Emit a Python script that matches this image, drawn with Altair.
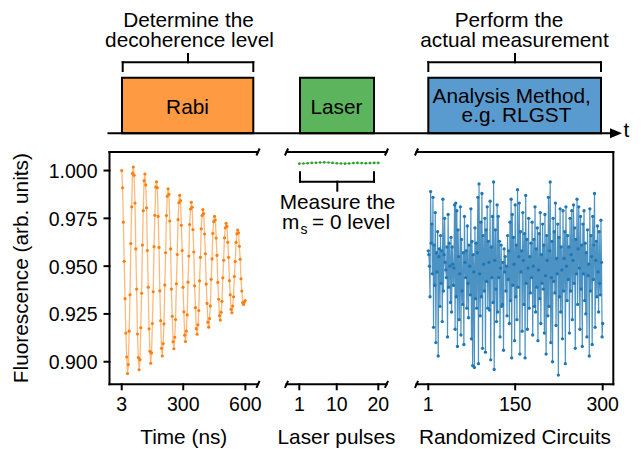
import altair as alt
import pandas as pd

# ---------------- data ----------------
rabi_time_ns = list(range(3, 600, 4))
rabi_fluorescence = [
    1.0000, 0.9910, 0.9730, 0.9525, 0.9330, 0.9150, 0.9025, 0.8938, 0.8985, 0.9160,
    0.9350, 0.9618, 0.9810, 0.9985, 1.0018, 0.9975, 0.9830, 0.9590, 0.9380, 0.9145,
    0.9022, 0.8958, 0.9011, 0.9178, 0.9358, 0.9610, 0.9790, 0.9946, 0.9982, 0.9925,
    0.9805, 0.9582, 0.9390, 0.9172, 0.9055, 0.8992, 0.9046, 0.9200, 0.9366, 0.9602,
    0.9766, 0.9914, 0.9941, 0.9910, 0.9760, 0.9598, 0.9371, 0.9215, 0.9070, 0.9030,
    0.9095, 0.9198, 0.9401, 0.9570, 0.9765, 0.9866, 0.9905, 0.9876, 0.9736, 0.9590,
    0.9380, 0.9238, 0.9105, 0.9068, 0.9128, 0.9221, 0.9408, 0.9561, 0.9743, 0.9832,
    0.9870, 0.9843, 0.9714, 0.9582, 0.9389, 0.9261, 0.9139, 0.9106, 0.9160, 0.9245,
    0.9416, 0.9553, 0.9718, 0.9799, 0.9834, 0.9808, 0.9691, 0.9574, 0.9397, 0.9283,
    0.9173, 0.9144, 0.9193, 0.9268, 0.9423, 0.9546, 0.9695, 0.9765, 0.9796, 0.9775,
    0.9668, 0.9565, 0.9406, 0.9305, 0.9207, 0.9181, 0.9226, 0.9292, 0.9431, 0.9538,
    0.9671, 0.9733, 0.9760, 0.9741, 0.9647, 0.9556, 0.9415, 0.9327, 0.9241, 0.9218,
    0.9259, 0.9316, 0.9439, 0.9531, 0.9648, 0.9701, 0.9724, 0.9708, 0.9625, 0.9546,
    0.9424, 0.9350, 0.9274, 0.9256, 0.9291, 0.9340, 0.9446, 0.9524, 0.9624, 0.9669,
    0.9689, 0.9674, 0.9604, 0.9536, 0.9434, 0.9370, 0.9310, 0.9300, 0.9312, 0.9320,
]

laser_pulse = list(range(1, 21))
laser_fluorescence = [
    1.0036, 1.0037, 1.0038, 1.0040, 1.0041, 1.0042, 1.0043, 1.0042, 1.0040, 1.0038,
    1.0037, 1.0036, 1.0037, 1.0039, 1.0040, 1.0039, 1.0038, 1.0039, 1.0040, 1.0040,
]

circuit_index = list(range(1, 301))
circuit_fluorescence = [
    0.958, 0.956, 0.950, 0.934, 0.989, 0.962, 0.972, 0.946, 0.986, 0.918, 0.961, 0.940, 0.978, 0.910, 0.957, 0.947, 0.968, 0.903, 0.955, 0.959,
    0.929, 0.966, 0.941, 0.958, 0.921, 0.985, 0.937, 0.956, 0.975, 0.952, 0.948, 0.944, 0.960, 0.913, 0.977, 0.939, 0.962, 0.950, 0.931, 0.965,
    0.926, 0.960, 0.951, 0.940, 0.949, 0.982, 0.917, 0.983, 0.934, 0.979, 0.908, 0.969, 0.955, 0.922, 0.946, 0.981, 0.914, 0.964, 0.937, 0.930,
    0.957, 0.909, 0.976, 0.952, 0.944, 0.958, 0.928, 0.971, 0.941, 0.923, 0.961, 0.950, 0.935, 0.980, 0.912, 0.963, 0.898, 0.956, 0.947, 0.897,
    0.970, 0.933, 0.962, 0.928, 0.957, 0.986, 0.899, 0.993, 0.946, 0.924, 0.973, 0.934, 0.988, 0.907, 0.966, 0.951, 0.937, 0.975, 0.905, 0.969,
    0.942, 0.981, 0.928, 0.963, 0.952, 0.927, 0.984, 0.901, 0.960, 0.944, 0.976, 0.931, 0.994, 0.896, 0.953, 0.969, 0.938, 0.921, 0.982, 0.926,
    0.976, 0.944, 0.963, 0.913, 0.949, 0.961, 0.929, 0.930, 0.952, 0.906, 0.959, 0.947, 0.955, 0.937, 0.950, 0.924, 0.966, 0.943, 0.958, 0.920,
    0.973, 0.932, 0.985, 0.902, 0.977, 0.940, 0.965, 0.951, 0.911, 0.982, 0.934, 0.961, 0.922, 0.990, 0.939, 0.955, 0.983, 0.904, 0.968, 0.947,
    0.958, 0.916, 0.978, 0.953, 0.930, 0.967, 0.902, 0.987, 0.941, 0.964, 0.917, 0.949, 0.975, 0.928, 0.955, 0.936, 0.962, 0.944, 0.973, 0.914,
    0.950, 0.964, 0.929, 0.981, 0.926, 0.959, 0.939, 0.970, 0.911, 0.948, 0.967, 0.933, 0.978, 0.920, 0.956, 0.941, 0.972, 0.938, 0.961, 0.915,
    0.977, 0.945, 0.904, 0.966, 0.953, 0.924, 0.986, 0.929, 0.958, 0.994, 0.910, 0.944, 0.963, 0.900, 0.975, 0.942, 0.968, 0.936, 0.983, 0.919,
    0.954, 0.946, 0.972, 0.893, 0.965, 0.934, 0.980, 0.926, 0.960, 0.948, 0.912, 0.979, 0.937, 0.954, 0.968, 0.899, 0.981, 0.950, 0.932, 0.966,
    0.943, 0.960, 0.915, 0.975, 0.937, 0.956, 0.979, 0.922, 0.953, 0.982, 0.941, 0.970, 0.907, 0.964, 0.946, 0.985, 0.930, 0.959, 0.981, 0.949,
    0.917, 0.976, 0.938, 0.961, 0.908, 0.972, 0.946, 0.979, 0.932, 0.962, 0.925, 0.957, 0.913, 0.969, 0.945, 0.951, 0.903, 0.980, 0.937, 0.966,
    0.955, 0.909, 0.976, 0.943, 0.961, 0.988, 0.918, 0.953, 0.963, 0.934, 0.971, 0.947, 0.926, 0.968, 0.941, 0.935, 0.974, 0.952, 0.913, 0.920,
]

fluor_ticks = [0.900, 0.925, 0.950, 0.975, 1.000]
time_ticks = [3, 300, 600]
pulse_ticks = [1, 10, 20]
circuit_ticks = [1, 150, 300]

# ---------------- layout / style ----------------
W, H = 641, 449
FONT = "Liberation Sans"
TXT = 20.8
LBL = 19.5
TICK = 5
Y_DOM = [0.8882, 1.0097]
Y_RNG = [384.3, 152]
Y_PER_PX = (Y_DOM[1] - Y_DOM[0]) / (Y_RNG[0] - Y_RNG[1])
RABI_DOM, RABI_RNG = [-56, 661], [109.5, 258]
LASER_DOM, LASER_RNG = [-2.08, 21.97], [286.5, 386.5]
CIRC_DOM, CIRC_RNG = [-19.2, 318.2], [416.5, 613.3]

ORANGE, GREEN, BLUE = "#ff7f0e", "#2ca02c", "#1f77b4"
BREAK_SHAPE = "M-0.45,1L0.45,-1"


def panel(df, xfield, xdom, xrng, color, ticks, title, pt_size, line_op, line_w,
          breaks, right_spine=False, left_axis=False):
    xs = alt.Scale(domain=xdom, range=xrng, nice=False, zero=False)
    ys = alt.Scale(domain=Y_DOM, range=Y_RNG, nice=False, zero=False)
    x_per_px = (xdom[1] - xdom[0]) / (xrng[1] - xrng[0])
    X = lambda f: alt.X(f, scale=xs, axis=None)
    Y = lambda f: alt.Y(f, scale=ys, axis=None)

    base = alt.Chart(df).encode(x=X(f"{xfield}:Q"), y=Y("fluorescence:Q"))
    line = base.mark_line(color=color, strokeWidth=line_w, opacity=line_op)
    pts = base.mark_circle(color=color, size=pt_size, opacity=1)

    # spines and ticks
    segs = [dict(x=xdom[0], x2=xdom[1], y=Y_DOM[1], y2=Y_DOM[1]),
            dict(x=xdom[0], x2=xdom[1], y=Y_DOM[0], y2=Y_DOM[0])]
    if right_spine:
        segs.append(dict(x=xdom[1], x2=xdom[1], y=Y_DOM[0], y2=Y_DOM[1]))
    if left_axis:
        segs.append(dict(x=xdom[0], x2=xdom[0], y=Y_DOM[0], y2=Y_DOM[1]))
    for t in ticks:
        segs.append(dict(x=t, x2=t, y=Y_DOM[0], y2=Y_DOM[0] - TICK * Y_PER_PX))
    if left_axis:
        for t in fluor_ticks:
            segs.append(dict(x=xdom[0] - TICK * x_per_px, x2=xdom[0], y=t, y2=t))
    spines = alt.Chart(pd.DataFrame(segs)).mark_rule(
        color="black", strokeWidth=2, strokeCap="square").encode(
        x=X("x:Q"), x2="x2:Q", y=Y("y:Q"), y2="y2:Q")

    # axis break marks
    bk = []
    for side in breaks:
        xv = xdom[0] if side == "left" else xdom[1]
        bk += [dict(x=xv, y=Y_DOM[0]), dict(x=xv, y=Y_DOM[1])]
    brk = alt.Chart(pd.DataFrame(bk)).mark_point(
        shape=BREAK_SHAPE, filled=False, color="black", strokeWidth=2,
        size=49, opacity=1).encode(x=X("x:Q"), y=Y("y:Q"))

    # x tick labels and title
    xl = pd.DataFrame({"x": ticks, "y": [Y_DOM[0]] * len(ticks),
                       "text": [str(t) for t in ticks]})
    xlabels = alt.Chart(xl).mark_text(
        font=FONT, fontSize=LBL, align="center", baseline="top", dy=TICK + 6.5,
        color="black").encode(x=X("x:Q"), y=Y("y:Q"), text="text:N")
    xt = pd.DataFrame([dict(x=(xdom[0] + xdom[1]) / 2, y=Y_DOM[0], text=title)])
    xtitle = alt.Chart(xt).mark_text(
        font=FONT, fontSize=TXT, align="center", baseline="alphabetic", dy=60,
        color="black").encode(x=X("x:Q"), y=Y("y:Q"), text="text:N")
    layers = [line, pts, spines, brk, xlabels, xtitle]

    if left_axis:
        yl = pd.DataFrame({"x": [xdom[0]] * len(fluor_ticks), "y": fluor_ticks,
                           "text": [f"{v:.3f}" for v in fluor_ticks]})
        ylabels = alt.Chart(yl).mark_text(
            font=FONT, fontSize=LBL, align="right", baseline="middle",
            dx=-(TICK + 7), dy=1.5, color="black").encode(
            x=X("x:Q"), y=Y("y:Q"), text="text:N")
        yt = pd.DataFrame([dict(x=xdom[0] - 82 * x_per_px,
                                y=(Y_DOM[0] + Y_DOM[1]) / 2,
                                text="Fluorescence (arb. units)")])
        ytitle = alt.Chart(yt).mark_text(
            font=FONT, fontSize=TXT, align="center", baseline="alphabetic",
            angle=270, color="black").encode(x=X("x:Q"), y=Y("y:Q"), text="text:N")
        layers += [ylabels, ytitle]
    return alt.layer(*layers)


rabi_df = pd.DataFrame({"t": rabi_time_ns, "fluorescence": rabi_fluorescence})
laser_df = pd.DataFrame({"n": laser_pulse, "fluorescence": laser_fluorescence})
circ_df = pd.DataFrame({"c": circuit_index, "fluorescence": circuit_fluorescence})

rabi = panel(rabi_df, "t", RABI_DOM, RABI_RNG, ORANGE, time_ticks, "Time (ns)",
             10, 0.55, 1.3, ["right"], left_axis=True)
laser = panel(laser_df, "n", LASER_DOM, LASER_RNG, GREEN, pulse_ticks, "Laser pulses",
              7, 0.5, 1.0, ["left", "right"])
circ = panel(circ_df, "c", CIRC_DOM, CIRC_RNG, BLUE, circuit_ticks, "Randomized Circuits",
             11, 0.8, 1.2, ["left"], right_spine=True)

# ---------------- schematic (figure units) ----------------
dx = alt.Scale(domain=[0, W], range=[0, W], nice=False, zero=False)
dy = alt.Scale(domain=[0, H], range=[0, H], nice=False, zero=False)

boxes = pd.DataFrame([
    dict(x=122, x2=253.3, y=77.7, y2=133.3, fill="#fd9a42"),
    dict(x=300, x2=374, y=77.7, y2=133.3, fill="#5cb55c"),
    dict(x=428.3, x2=601, y=77.7, y2=133.3, fill="#5a9bcf"),
])
segments = pd.DataFrame([
    dict(x=122.7, x2=253.3, y=62.3, y2=62.3),
    dict(x=122.7, x2=122.7, y=62.3, y2=71),
    dict(x=253.3, x2=253.3, y=62.3, y2=71),
    dict(x=188, x2=188, y=54, y2=62.3),
    dict(x=428.3, x2=601, y=62.3, y2=62.3),
    dict(x=428.3, x2=428.3, y=62.3, y2=71),
    dict(x=601, x2=601, y=62.3, y2=71),
    dict(x=515, x2=515, y=54, y2=62.3),
    dict(x=300, x2=374, y=181.7, y2=181.7),
    dict(x=300, x2=300, y=172.3, y2=181.7),
    dict(x=374, x2=374, y=172.3, y2=181.7),
    dict(x=337.3, x2=337.3, y=181.7, y2=190.7),
    dict(x=108.5, x2=612, y=133.3, y2=133.3),
])
center_text = pd.DataFrame([
    dict(x=188.5, y=26.5, text="Determine the"),
    dict(x=189.5, y=46.7, text="decoherence level"),
    dict(x=509, y=26.5, text="Perform the"),
    dict(x=514.5, y=46.7, text="actual measurement"),
    dict(x=187.5, y=114.3, text="Rabi"),
    dict(x=336.5, y=114.3, text="Laser"),
    dict(x=511.7, y=102.8, text="Analysis Method,"),
    dict(x=516.5, y=122.3, text="e.g. RLGST"),
    dict(x=337.5, y=209.3, text="Measure the"),
    dict(x=626.5, y=136.7, text="t"),
])
left_text = pd.DataFrame([
    dict(x=282, y=229.3, text="m"),
    dict(x=312, y=229.3, text="= 0 level"),
])
sub_text = pd.DataFrame([dict(x=300.5, y=233.5, text="s")])
arrow = pd.DataFrame([dict(x=616, y=133.3)])

enc = dict(x=alt.X("x:Q", scale=dx, axis=None), y=alt.Y("y:Q", scale=dy, axis=None))
d_boxes = alt.Chart(boxes).mark_rect(stroke="black", strokeWidth=2).encode(
    x2="x2:Q", y2="y2:Q", fill=alt.Fill("fill:N", scale=None), **enc)
d_segs = alt.Chart(segments).mark_rule(color="black", strokeWidth=2, strokeCap="square").encode(
    x2="x2:Q", y2="y2:Q", **enc)
d_arrow = alt.Chart(arrow).mark_point(shape="M-1,-0.83L1,0L-1,0.83Z", filled=True,
                                      color="black", size=144, opacity=1).encode(**enc)
d_ctext = alt.Chart(center_text).mark_text(font=FONT, fontSize=TXT, align="center",
                                           baseline="alphabetic", color="black").encode(
    text="text:N", **enc)
d_ltext = alt.Chart(left_text).mark_text(font=FONT, fontSize=TXT, align="left",
                                         baseline="alphabetic", color="black").encode(
    text="text:N", **enc)
d_stext = alt.Chart(sub_text).mark_text(font=FONT, fontSize=14, align="left",
                                        baseline="alphabetic", color="black").encode(
    text="text:N", **enc)
diagram = alt.layer(d_boxes, d_segs, d_arrow, d_ctext, d_ltext, d_stext)

chart = alt.layer(rabi, laser, circ, diagram).resolve_scale(
    x="independent", y="independent").resolve_axis(
    x="independent", y="independent").properties(
    width=W, height=H, padding=0, autosize=alt.AutoSizeParams(type="none"),
    background="white").configure_view(stroke=None)

chart.save("out.html", embed_options={"renderer": "svg", "actions": False})
